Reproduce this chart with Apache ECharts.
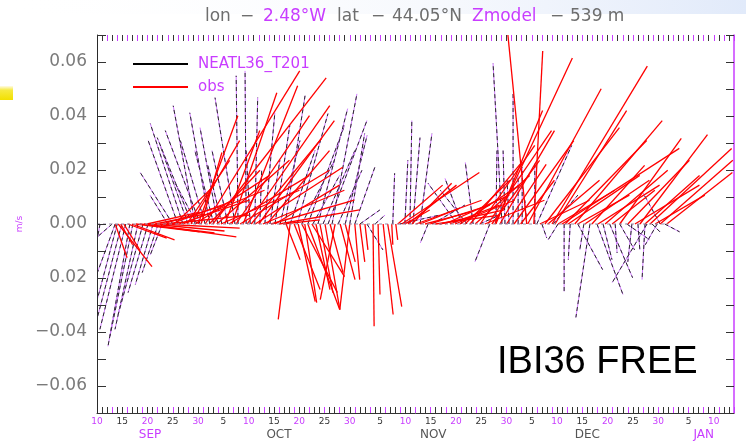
<!DOCTYPE html>
<html><head><meta charset="utf-8">
<script src="https://cdn.jsdelivr.net/npm/echarts/dist/echarts.min.js"></script>
<style>html,body{margin:0;padding:0;background:#fff}#c{width:746px;height:442px}</style>
</head><body><div id="c"></div><script>
// ---- data (days since 10 Sep; u,v in m/s) ----
var modelDay = [0.6,3.0,3.6,4.0,4.9,5.7,6.5,7.1,8.1,9.1,10.1,11.1,12.1,12.9,14.0,15.0,16.0,17.0,18.0,18.8,19.4,19.8,20.4,21.4,22.3,23.1,23.9,24.7,25.9,27.3,27.9,29.5,30.3,31.2,32.2,33.2,34.2,35.2,36.2,37.2,38.2,39.6,40.5,41.7,42.7,43.7,44.7,45.7,46.5,47.7,49.1,50.0,51.0,52.0,53.4,55.0,58.5,59.9,60.9,61.9,62.5,63.9,65.5,66.3,67.8,71.2,72.2,73.2,74.4,75.7,77.7,78.9,80.1,80.7,81.5,82.3,83.3,84.1,85.0,86.6,87.0,88.0,90.2,91.2,92.4,93.6,95.1,96.3,97.5,98.9,100.1,101.4,102.5,103.4,104.8,105.8,107.0,108.4,108.8,109.8,110.8,111.4,112.3];
var modelU = [-0.0011,-0.0055,-0.0066,-0.0074,-0.0092,-0.0096,-0.0081,-0.0085,-0.0085,-0.0092,-0.0074,-0.0066,-0.0059,-0.0044,-0.0066,-0.0121,-0.011,-0.0121,-0.0103,-0.0129,-0.0081,-0.0081,-0.0129,-0.0092,-0.0074,-0.007,-0.0066,-0.0052,-0.0059,-0.0074,-0.0007,-0.0004,-0.0015,0.0011,0.0007,0.0037,0.0037,0.0055,0.0074,0.0074,0.0092,0.0114,0.0121,0.0136,0.0099,0.011,0.0118,0.0144,0.0092,0.0088,0.0081,0.0055,0.0074,0.0074,0.0059,0.0037,0.0007,0.0147,0.0011,0.0007,0.0026,0.0044,-0.0029,0.0121,0.011,-0.0107,-0.0063,-0.0099,-0.0029,0.0074,-0.0055,0.0004,-0.0033,-0.0007,-0.0007,0,0,0,-0.0007,0,0.0129,0.0018,0.0092,-0.0037,0,-0.0007,0.0092,-0.0015,-0.0052,0.0096,0.0033,0.0085,0.0007,0.0055,0.0085,-0.0015,0.0007,-0.0011,-0.0129,0.0029,-0.0044,-0.0063,0.0055];
var modelV = [-0.0059,-0.0048,-0.018,-0.028,-0.0353,-0.039,-0.0453,-0.0416,-0.039,-0.0335,-0.0254,-0.0225,-0.018,-0.0114,0.0107,0.0191,0.0309,0.0372,0.0291,0.032,0.0438,0.0151,0.0346,0.0309,0.0412,0.0272,0.0357,0.0217,0.0272,0.0468,0.0549,0.0567,0.0272,0.0468,0.0199,0.0412,0.0236,0.0365,0.0309,0.0475,0.0272,0.0409,0.0236,0.0365,0.018,0.0427,0.0272,0.0383,0.0482,0.0199,0.0328,0.0335,0.021,0.0052,-0.0096,0.0033,0.0188,0.0033,0.0236,0.0383,0.032,0.0335,-0.007,0.007,0.0022,0.0151,0.0169,0.0125,0.0228,0.0033,-0.014,0.0272,0.0596,0.0272,0.0162,0.0482,0.018,0.021,0.0088,0.0225,0.0291,-0.0052,0.0107,-0.0059,-0.025,-0.0132,-0.0169,-0.0096,-0.0346,-0.0261,-0.0132,-0.0199,-0.0107,-0.0096,-0.0059,-0.014,-0.0096,-0.0206,-0.0217,-0.0029,-0.0077,0.0114,-0.0029];

var obsDay = [3.6,4.2,4.7,5.3,6.1,6.9,7.7,8.5,9.3,9.9,10.7,11.5,12.3,13.1,13.8,14.6,15.4,16.2,17.0,17.8,18.6,19.4,20.0,20.6,21.4,22.2,22.9,23.7,24.5,25.3,26.1,26.7,27.5,28.3,28.9,29.7,30.5,31.3,32.0,32.8,33.6,34.4,35.2,36.0,36.8,37.4,38.2,39.0,39.8,40.5,41.1,41.7,42.5,43.3,44.1,45.1,46.1,47.1,48.1,49.1,50.0,51.0,52.0,53.0,54.6,55.6,56.6,57.5,58.3,59.1,59.5,60.3,60.9,61.5,62.3,63.1,63.9,64.9,65.9,66.9,67.8,68.8,69.8,70.8,71.8,72.8,73.8,74.8,75.8,76.7,77.3,78.1,78.7,78.9,79.7,81.0,82.5,83.8,85.0,85.2,86.4,87.6,88.6,89.2,90.0,90.6,91.2,92.0,92.6,93.2,94.5,95.1,96.5,97.9,99.1,100.5,101.9,103.4,105.0,106.4,107.4,108.4,109.4,110.4,111.4,112.7];
var obsU = [0.0044,0.0125,0.0044,0.0059,0.0144,0.0158,0.0236,0.0276,0.0342,0.0195,0.0272,0.0184,0.0298,0.0228,0.0306,0.0236,0.0147,0.0261,0.0302,0.0158,0.018,0.0276,0.0147,0.0077,0.035,0.0188,0.042,0.0269,0.0291,0.0129,0.0298,0.0166,0.0272,0.0331,0.0202,0.0306,0.0261,0.0324,0.028,0.0302,0.0232,0.0309,0.0239,0.0298,0.0136,0.0052,-0.0044,0.0096,0.0063,0.0132,0.0044,0.0118,0.0121,0.0052,0.0048,0.0055,0.0048,-0.0055,0.0055,0.0037,-0.0037,0.0018,0.0018,0.0011,0.0004,0.0007,0.0037,0.0052,0.0004,0.0007,0.0166,0.0287,0.0092,0.018,0.0147,0.0243,0.0147,0.0166,0.0221,0.0239,0.0239,0.0239,0.0184,0.0221,0.0221,0.0166,0.0191,0.0202,0.0202,0.0221,0.0236,0.0177,0.0287,0.0173,0.0202,0.0147,0.0221,0.0125,-0.007,0.0272,0.0033,0.0184,0.0276,0.0191,0.0353,0.0265,0.021,0.0434,0.0302,0.0265,0.0324,0.0191,0.0239,0.0195,0.0228,0.0232,0.0158,0.0228,0.0228,0.0239,0.025,0.0202,0.0302,0.0184,0.0269,0.0243];
var obsV = [-0.0125,-0.0158,-0.0077,-0.0096,-0.0052,-0.0059,-0.0029,-0.0033,-0.0048,0.0044,-0.0026,0.0037,-0.0015,0.007,0.0033,0.0088,0.0144,0.0088,0.0125,0.0236,0.0309,0.018,0.0401,0.0265,0.0567,0.0199,0.0541,0.0236,0.0125,0.0346,0.018,0.0486,0.0401,0.0199,0.0512,0.0438,0.0317,0.021,0.0383,0.0125,0.0272,0.0088,0.0144,0.0052,0.0015,-0.0132,-0.0353,-0.0243,-0.0287,-0.0254,-0.0291,-0.0317,-0.0195,-0.0243,-0.0254,-0.0317,-0.018,-0.028,-0.0206,-0.014,-0.0317,-0.0206,-0.014,-0.0096,-0.0379,-0.0261,-0.0335,-0.0306,-0.0077,-0.0059,0.0144,0.0191,0.0052,0.0144,0.0151,0.0088,0.0059,0.0044,0.007,0.0033,0.0052,0.0107,0.007,0.0088,0.0144,0.0162,0.0228,0.018,0.0291,0.0088,0.0346,0.0236,0.0615,0.042,0.0346,0.0221,0.0309,0.0162,0.0703,0.0501,0.0641,0.0088,0.0357,0.0162,0.0585,0.042,0.0125,0.028,0.0309,0.018,0.0383,0.0107,0.0162,0.0217,0.0144,0.0199,0.0125,0.0317,0.0236,0.0144,0.0331,0.018,0.028,0.0107,0.0236,0.0191];

var zeroLineDays = [0, 113];

var xLabelDays  = [0,5,10,15,20,25,30,35,40,45,50,56,61,66,71,76,81,86,91,96,101,106,111,117,122];
var xLabelTexts = ['10','15','20','25','30','5','10','15','20','25','30','5','10','15','20','25','30','5','10','15','20','25','30','5','10'];
var monthCenters = [10.5, 36, 66.5, 97, 120];
var monthNames  = ['SEP','OCT','NOV','DEC','JAN'];
var yLabelValues = [-0.06,-0.04,-0.02,0,0.02,0.04,0.06];
var yLabelTexts  = ['\u22120.06','\u22120.04','0.02','0.00','0.02','0.04','0.06'];

var MAG = '#c83cff';
function zipData(d,u,v){ var out=[]; for(var i=0;i<d.length;i++) out.push([d[i],u[i],v[i]]); return out; }
function findIdx(arr, v, tol){ for(var i=0;i<arr.length;i++){ if(Math.abs(arr[i]-v)<tol) return i; } return -1; }

function stickRender(kind){
  return function(params, api){
    var d = api.value(0), u = api.value(1), v = api.value(2);
    var p0 = api.coord([d, 0]);
    var pv = api.coord([d, v]);
    var s = api.size([0, 1])[1];
    var shape = {x1:p0[0], y1:p0[1], x2:p0[0] + u*s, y2:pv[1]};
    if (kind === 'model') {
      return {type:'group', children:[
        {type:'line', shape:shape, style:{stroke:'#d07aff', lineWidth:1}},
        {type:'line', shape:shape, style:{stroke:'#2a2a2a', lineWidth:1, lineDash:[4,3]}}
      ]};
    }
    return {type:'line', shape:shape, style:{stroke:'#ff0000', lineWidth:1.3}};
  };
}

var chart = echarts.init(document.getElementById('c'), null, {renderer:'canvas'});
function xAx(extra){
  var base = {type:'value', min:0, max:126, interval:1, splitLine:{show:false},
    axisLine:{show:false, onZero:false}, axisTick:{show:false}, axisLabel:{show:false}};
  for (var k in extra) base[k] = extra[k];
  return base;
}
var option = {
  animation:false,
  backgroundColor:'#ffffff',
  grid:{left:97, right:12, top:35, bottom:29},
  legend:{
    data:['NEATL36_T201','obs'], orient:'vertical', left:128, top:50,
    itemWidth:55, itemHeight:2, icon:'rect', itemGap:5,
    textStyle:{color:MAG, fontSize:15, fontFamily:'DejaVu Sans', padding:[0,0,0,5], lineHeight:18}
  },
  xAxis:[
    xAx({position:'bottom',
      axisLine:{show:true, onZero:false, lineStyle:{color:'#333', width:1}},
      axisTick:{show:true, inside:true, length:6, lineStyle:{color:'#333'}},
      axisLabel:{show:true, margin:4, fontSize:9, fontFamily:'DejaVu Sans',
        formatter:function(v){ var i=findIdx(xLabelDays, v, 1e-6); if(i<0) return ''; return '{'+(i%2?'k':'m')+'|'+xLabelTexts[i]+'}'; },
        rich:{m:{color:MAG, fontSize:9}, k:{color:'#333', fontSize:9}}}
    }),
    xAx({position:'bottom', offset:13, interval:0.5,
      axisLabel:{show:true, margin:3, fontSize:12, fontFamily:'DejaVu Sans',
        formatter:function(v){ var i=findIdx(monthCenters, v, 1e-6); if(i<0) return ''; return '{'+(i===0||i===4?'m':'k')+'|'+monthNames[i]+'}'; },
        rich:{m:{color:MAG, fontSize:12}, k:{color:'#555', fontSize:12}}}
    }),
    xAx({position:'top',
      axisTick:{show:true, inside:true, length:6, lineStyle:{color:'#333'}}}),
    xAx({position:'top', interval:2,
      axisTick:{show:true, inside:true, length:6, lineStyle:{color:MAG}}}),
    xAx({position:'bottom', interval:3,
      axisTick:{show:true, inside:true, length:6, lineStyle:{color:MAG}}})
  ],
  yAxis:[
    {type:'value', position:'left', min:-0.07, max:0.07, interval:0.01, splitLine:{show:false}, z:10,
      axisLine:{show:true, onZero:false, lineStyle:{color:'#2a2a2a'}},
      axisTick:{show:true, inside:true, length:9, lineStyle:{color:'#333'}},
      axisLabel:{margin:10, fontSize:17, fontFamily:'DejaVu Sans', color:'#7a7a7a',
        formatter:function(v){ var i=findIdx(yLabelValues, v, 1e-6); return i<0 ? '' : yLabelTexts[i]; }},
      name:'m/s', nameLocation:'middle', nameGap:40, nameRotate:90,
      nameTextStyle:{fontSize:9, color:MAG, fontFamily:'DejaVu Sans'}
    },
    {type:'value', position:'right', min:-0.07, max:0.07, interval:0.01, splitLine:{show:false},
      axisLine:{show:true, onZero:false, lineStyle:{color:MAG, width:1.5}},
      axisTick:{show:true, inside:true, length:8, lineStyle:{color:'#333'}},
      axisLabel:{show:false}
    }
  ],
  series:[
    {type:'line', name:'zero', xAxisIndex:0, yAxisIndex:0, symbol:'none', silent:true,
      data:[[zeroLineDays[0],0],[zeroLineDays[1],0]],
      lineStyle:{color:'#9a8aa8', width:1, type:[3,3]}},
    {type:'custom', name:'NEATL36_T201', xAxisIndex:0, yAxisIndex:0, clip:true,
      itemStyle:{color:'#000'}, encode:{x:0, y:2},
      renderItem:stickRender('model'), data:zipData(modelDay, modelU, modelV)},
    {type:'custom', name:'obs', xAxisIndex:0, yAxisIndex:0, clip:true,
      itemStyle:{color:'#ff0000'}, encode:{x:0, y:2},
      renderItem:stickRender('obs'), data:zipData(obsDay, obsU, obsV)}
  ],
  graphic:[
    {type:'rect', left:0, top:0, silent:true, z:-10, shape:{width:746, height:14},
      style:{fill:new echarts.graphic.LinearGradient(0,0,1,0,[{offset:0,color:'rgba(255,255,255,0)'},{offset:0.6,color:'rgba(232,238,250,0.4)'},{offset:1,color:'rgba(225,234,250,1)'}])}},
    {type:'rect', left:0, top:86, silent:true, shape:{width:13, height:14},
      style:{fill:new echarts.graphic.LinearGradient(0,0,0,1,[{offset:0,color:'#fffbe6'},{offset:0.3,color:'#f6ea40'},{offset:1,color:'#f2e000'}])}},
    {type:'text', x:205, y:17, style:{text:'lon', fill:'#6e6e6e', font:'17px "DejaVu Sans"', textVerticalAlign:'middle'}},
    {type:'text', x:240, y:17, style:{text:'\u2212', fill:'#6e6e6e', font:'17px "DejaVu Sans"', textVerticalAlign:'middle'}},
    {type:'text', x:263, y:17, style:{text:'2.48\u00b0W', fill:MAG, font:'17px "DejaVu Sans"', textVerticalAlign:'middle'}},
    {type:'text', x:337, y:17, style:{text:'lat', fill:'#6e6e6e', font:'17px "DejaVu Sans"', textVerticalAlign:'middle'}},
    {type:'text', x:371, y:17, style:{text:'\u2212', fill:'#6e6e6e', font:'17px "DejaVu Sans"', textVerticalAlign:'middle'}},
    {type:'text', x:392, y:17, style:{text:'44.05\u00b0N', fill:'#6e6e6e', font:'17px "DejaVu Sans"', textVerticalAlign:'middle'}},
    {type:'text', x:472, y:17, style:{text:'Zmodel', fill:MAG, font:'17px "DejaVu Sans"', textVerticalAlign:'middle'}},
    {type:'text', x:550, y:17, style:{text:'\u2212', fill:'#6e6e6e', font:'17px "DejaVu Sans"', textVerticalAlign:'middle'}},
    {type:'text', x:570, y:17, style:{text:'539 m', fill:'#6e6e6e', font:'17px "DejaVu Sans"', textVerticalAlign:'middle'}},
    {type:'text', x:497, y:363, z:100, style:{text:'IBI36 FREE', fill:'#000', font:'38px "Liberation Sans"', textVerticalAlign:'middle'}}
  ]
};
chart.setOption(option);
</script></body></html>
